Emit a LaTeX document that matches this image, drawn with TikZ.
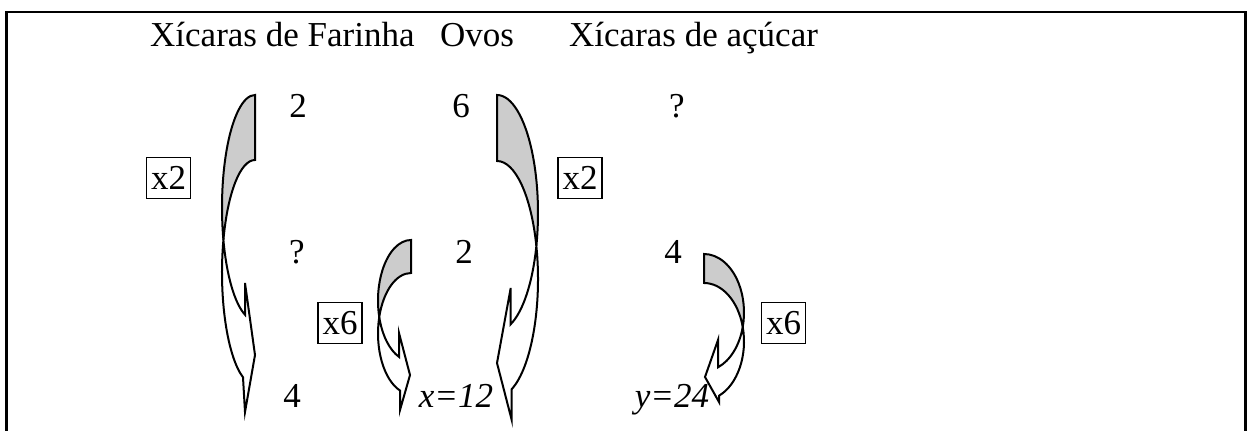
\documentclass[tikz,border=0pt]{standalone}
\usepackage{fontspec}
\setmainfont{Liberation Serif}
\begin{document}
\begin{tikzpicture}[x=1pt,y=1pt,font=\fontsize{35}{42}\selectfont,
  every node/.style={inner sep=0pt},
  head/.style={anchor=base west},
  num/.style={anchor=base},
  factor/.style={draw,line width=1.6pt,minimum width=44pt,minimum height=41pt,inner sep=1pt},
  backface/.style={draw,line width=2pt,fill=black!20},
  frontface/.style={draw,line width=2pt,fill=white}]
\useasboundingbox (0,0) rectangle (1248,-431);
% frame
\draw[line width=2.2pt] (6.5,-431) -- (6.5,-12) -- (1245.5,-12) -- (1245.5,-431);
% headers
\node[head] (farinha) at (150,-46) {Xícaras de Farinha};
\node[head] (ovos) at (440,-46) {Ovos};
\node[head] (acucar) at (569,-46) {Xícaras de açúcar};
% values
\node[num] (f1) at (298,-117) {2};
\node[num] (o1) at (461,-117) {6};
\node[num] (a1) at (677,-117) {?};
\node[num] (f2) at (297,-263) {?};
\node[num] (o2) at (464,-263) {2};
\node[num] (a2) at (673,-263) {4};
\node[num] (f3) at (292,-407) {4};
\node[num] (o3) at (456,-407) {\textit{x=12}};
\node[num] (a3) at (672,-407) {\textit{y=24}};
% factors
\node[factor] (kx2l) at (168.5,-178) {x2};
\node[factor] (kx2r) at (580,-178) {x2};
\node[factor] (kx6l) at (340,-323) {x6};
\node[factor] (kx6r) at (783.5,-323) {x6};
% bent arrows, left side
\filldraw[backface] (255,-95) arc (90:196.79:33 and 112.5) coordinate (bendA)
  arc (163.21:90:33 and 112.5) -- cycle;
\filldraw[frontface] (bendA) arc (196.79:252.36:33 and 112.5) -- (245,-283) -- (255,-355)
  -- (245,-412) -- (243,-377.3) arc (248.68:163.21:33 and 112.5) -- cycle;
\filldraw[backface] (411,-240) arc (90:195.83:33 and 60.5) coordinate (bendB)
  arc (164.17:90:33 and 60.5) -- cycle;
\filldraw[frontface] (bendB) arc (195.83:248.68:33 and 60.5) -- (399,-333) -- (410,-375)
  -- (400,-410) -- (400,-390.5) arc (250.53:164.17:33 and 60.5) -- cycle;
% bent arrows, right side
\filldraw[backface] (497,-95) arc (90:-16.24:41 and 118) coordinate (bendC)
  arc (16.24:90:41 and 118) -- cycle;
\filldraw[frontface] (bendC) arc (-16.24:-70.5:41 and 118) -- (510.7,-288) -- (497,-363)
  -- (511.7,-420) -- (511.7,-389.2) arc (-69:16.24:41 and 118) -- cycle;
\filldraw[backface] (704,-254) arc (90:-14.35:40 and 58.5) coordinate (bendD)
  arc (14.35:90:40 and 58.5) -- cycle;
\filldraw[frontface] (bendD) arc (-14.35:-69.51:40 and 58.5) -- (718,-340) -- (705,-377)
  -- (719,-402) -- (719,-395.7) arc (-67.98:14.35:40 and 58.5) -- cycle;
\end{tikzpicture}
\end{document}
